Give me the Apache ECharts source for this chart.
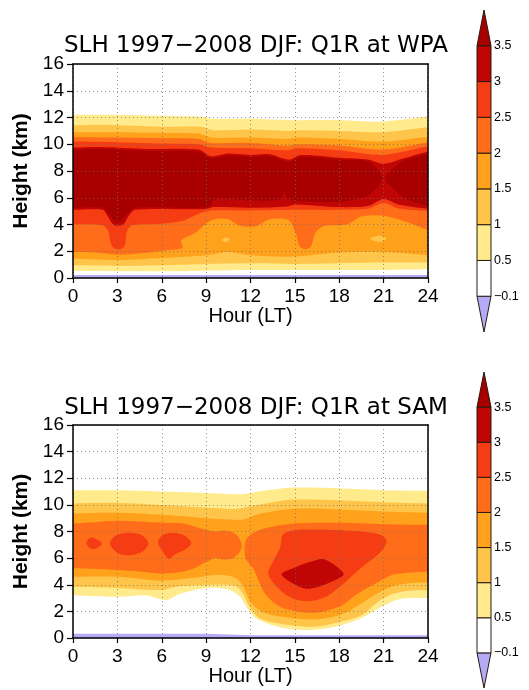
<!DOCTYPE html>
<html><head><meta charset="utf-8">
<script src="https://cdn.jsdelivr.net/npm/echarts@6/dist/echarts.min.js"></script>
<style>html,body{margin:0;padding:0;background:#fff}#c{width:529px;height:690px}</style>
</head><body><div id="c"></div>
<script>
// ---------------- shared scale data ----------------
const LEVELS = [-0.1, 0.5, 1, 1.5, 2, 2.5, 3, 3.5];          // contour levels (colour-bar boundaries)
const CB_LABELS = ['−0.1', '0.5', '1', '1.5', '2', '2.5', '3', '3.5'];
const TITLES = ['SLH 1997−2008 DJF: Q1R at WPA', 'SLH 1997−2008 DJF: Q1R at SAM'];
const HOUR_RANGE = [0, 24, 3];      // min, max, step of the x ticks
const HEIGHT_RANGE = [0, 16, 2];    // min, max, step of the y ticks

// ---------------- WPA panel: region boundaries [hour, km] where Q1R >= level ----------------
const wpaLowTop  = [[-0.3,0.22],[24.3,0.22]];
const wpaLowBot  = [[-0.3,-0.3],[24.3,-0.3]];
const wpa05Top = [[-0.3,12.2],[2,12.2],[5,12.15],[8.7,12.05],[9.4,11.9],[12,11.9],[15,11.8],[18,11.8],[21,11.7],[24.3,12.1]];
const wpa05Bot = [[-0.3,0.52],[6,0.5],[9,0.55],[12,0.6],[15,0.6],[18,0.6],[21,0.6],[24.3,0.65]];
const wpa10Top = [[-0.3,11.4],[2,11.45],[6,11.3],[8.6,11.3],[9.5,11.05],[12,11.1],[14.5,11.0],[15.2,11.05],[18,11.0],[21,10.9],[24.3,11.3]];
const wpa10Bot = [[-0.3,0.95],[3,0.9],[6,0.95],[9,1.05],[12,1.1],[15,1.05],[18,1.1],[21,1.15],[24.3,1.15]];
const wpa15Top = [[-0.3,10.9],[3,10.9],[6,10.85],[8.5,10.8],[9.4,10.5],[12,10.5],[14.5,10.4],[15.2,10.5],[18,10.4],[21,10.2],[24.3,10.6]];
const wpa15Bot = [[-0.3,1.45],[3,1.35],[6,1.5],[9,1.7],[10.5,1.95],[12,1.7],[15,1.6],[18,1.9],[21,1.95],[24.3,1.7]];
const wpaHoleA = [[10.05,2.85],[10.3,3.02],[10.6,2.88],[10.3,2.68]];
const wpaHoleB = [[20.1,2.92],[20.6,3.15],[21.2,2.98],[20.7,2.7]];
const wpa20Top = [[-0.3,10.55],[3,10.5],[6,10.45],[8.5,10.4],[9.3,10.1],[12,10.1],[14.5,9.9],[15.2,10.0],[18,9.9],[21,9.6],[24.3,10.2]];
const wpa20Bot = [[-0.3,1.95],[1.5,1.9],[3,1.75],[4.5,1.85],[6.5,2.1],[7.4,2.25],[7.3,2.8],[8.3,3.4],[9.0,4.1],[9.6,4.4],[10.5,4.4],[11.2,3.95],[12.3,3.85],[13.3,4.4],[14.6,4.3],[15.1,3.2],[15.3,2.4],[15.7,2.15],[16.1,2.4],[16.4,3.4],[17,3.9],[18.5,4.0],[19.5,4.6],[21,4.65],[22.5,4.2],[24.3,3.5]];
const wpa25Top = [[-0.3,10.2],[3,10.15],[6,10.05],[8.5,10.0],[9.3,9.75],[12,9.7],[14.5,9.55],[15.2,9.7],[18,9.55],[21,9.2],[24.3,9.9]];
const wpa25Bot = [[-0.3,4.0],[2,3.95],[2.4,3.5],[2.55,2.6],[2.8,2.2],[3.2,2.15],[3.5,2.45],[3.65,3.5],[4.0,3.95],[6,4.05],[7.5,4.3],[8.5,4.8],[9.3,5.05],[12,5.05],[15,5.1],[18,5.1],[20,5.2],[21,5.6],[22,5.2],[24.3,5.0]];
const wpa30Top = [[-0.3,9.75],[2,9.8],[5,9.65],[8.5,9.6],[9.3,9.1],[10.5,9.3],[12,9.2],[13.3,9.25],[14.6,8.85],[15.4,9.2],[18,9.0],[20,8.85],[21,8.55],[22.5,9.0],[24.3,9.5]];
const wpa30Bot = [[-0.3,5.1],[2,5.1],[2.3,4.7],[2.7,4.0],[3.0,3.9],[3.4,4.0],[3.8,4.7],[4.2,5.1],[9,5.15],[9.5,5.3],[12,5.25],[14.5,5.35],[15,5.5],[18,5.3],[20,5.4],[21,5.9],[22,5.5],[24.3,5.15]];
const wpa35ATop = [[-0.3,9.6],[2,9.65],[5,9.5],[8.5,9.45],[9.3,8.95],[10.5,9.15],[12,9.05],[13.3,9.1],[14.6,8.7],[15.4,9.05],[18,8.85],[20,8.7],[20.9,7.45]];
const wpa35ABot = [[-0.3,5.25],[2.0,5.25],[2.4,4.8],[3.0,4.15],[3.7,4.8],[4.2,5.25],[9.2,5.3],[9.6,5.9],[12,5.8],[14.1,5.9],[14.3,6.6],[14.5,5.9],[18,5.7],[20,6.2]];
const wpa35BTop = [[21.1,7.45],[22,8.5],[22.5,8.85],[24.3,9.35]];
const wpa35BBot = [[22.0,6.3],[22.5,5.9],[24.3,5.3]];

// ---------------- SAM panel ----------------
const samLowTop = [[-0.3,0.32],[9,0.32],[10.5,0.26],[12,0.2],[24.3,0.2]];
const samLowBot = [[-0.3,-0.3],[24.3,-0.3]];
const sam05Top = [[-0.3,11.1],[3,11.1],[6,11.0],[9,10.9],[11.5,10.8],[12.5,11.0],[15,11.3],[18,11.25],[21,11.1],[24.3,11.05]];
const sam05Bot = [[-0.3,3.2],[3,3.1],[5,3.2],[6.3,2.85],[7.2,3.3],[9,3.75],[10.5,3.65],[11.3,3.1],[11.8,2.2],[12.5,1.4],[14,0.8],[15.5,0.6],[17,0.7],[18.1,0.95],[19.3,1.4],[20.3,2.0],[21.3,2.6],[22.2,2.95],[24.3,3.0]];
const sam10Top = [[-0.3,10.1],[3,10.15],[6,10.0],[9,9.8],[11,9.7],[12,9.9],[13.5,10.2],[15,10.4],[18,10.35],[21,10.2],[24.3,10.1]];
const sam10Bot = [[-0.3,3.85],[3,3.75],[6,3.6],[7,3.85],[9.5,4.0],[11,3.9],[11.5,3.3],[11.9,2.4],[12.6,1.5],[14.1,1.05],[16.3,0.85],[18,1.2],[19.5,1.7],[20.6,2.7],[21.6,3.3],[22.7,3.55],[24.3,3.6]];
const sam15Top = [[-0.3,9.35],[3,9.4],[6,9.25],[9,9.0],[10.5,8.9],[11.5,8.9],[12.5,9.3],[15,9.7],[18,9.65],[21,9.5],[24.3,9.4]];
const sam15Bot = [[-0.3,4.6],[3,4.6],[6,4.3],[8,4.5],[10,4.75],[11,4.5],[11.5,3.9],[12,2.7],[12.8,1.95],[14.1,1.6],[16.3,1.4],[18.1,1.75],[19.5,2.6],[20.8,3.5],[22,4.0],[24.3,4.2]];
const sam20ATop = [[-0.3,8.6],[1.5,8.7],[3,8.8],[4.5,8.75],[6,8.65],[7.5,8.6],[8.7,8.2],[9.5,8.0],[10.3,8.05],[11.0,7.8],[11.4,7.1]];
const sam20ABot = [[-0.3,5.25],[1.5,5.2],[3,5.1],[4.5,5.0],[6,4.85],[7.5,5.0],[8.3,5.3],[9.0,5.7],[9.6,6.0],[10.2,5.9],[10.8,6.0],[11.3,6.5]];
const sam20BTop = [[11.6,6.6],[11.7,7.4],[12.2,7.9],[13,8.25],[15,8.6],[18,8.65],[21,8.55],[24.3,8.5]];
const sam20BBot = [[11.7,5.9],[12.2,5.2],[13.0,3.3],[14.1,2.3],[16.3,1.9],[18.1,2.4],[19.2,3.3],[20.8,4.3],[21.8,4.8],[24.3,5.0]];
const sam25Blob1 = [[0.9,7.15],[1.2,7.55],[1.6,7.4],[1.95,7.1],[1.6,6.75],[1.2,6.7]];
const sam25Blob2 = [[2.5,7.1],[2.9,7.7],[3.7,7.9],[4.6,7.75],[5.1,7.1],[4.7,6.5],[3.8,6.2],[3.0,6.4]];
const sam25Blob3 = [[5.75,7.2],[6.1,7.75],[6.8,7.9],[7.6,7.65],[8.0,7.1],[7.5,6.6],[6.9,6.3],[6.5,5.95],[6.1,6.45]];
const sam25Main  = [[13.2,4.8],[13.6,5.9],[14.0,6.8],[14.2,7.8],[15,8.1],[16.5,8.15],[18,8.1],[19.5,8.0],[20.8,7.75],[21.2,7.3],[20.9,6.6],[20.3,6.0],[19.5,5.3],[18.8,4.6],[18.1,3.9],[17.2,3.15],[16.2,2.8],[15.2,2.85],[14.1,3.5]];
const sam30Blob  = [[14.1,4.8],[15.0,5.3],[16.0,5.7],[17.0,5.9],[18.3,4.8],[17.2,4.1],[15.8,3.7],[14.7,4.2]];

// ---------------- colours (style) ----------------
const BIN_COLORS = ['#b4aaf5','#ffffff','#ffea8c','#ffc54a','#ffa11a','#ff6c1a','#f53c12','#c00505','#a80000'];
function colorFor(v){ let k = 0; for (const l of LEVELS) if (v >= l) k++; return BIN_COLORS[k]; }

function band(top, bot){
  const pts = [];
  if (top[0][0] <= 0) pts.push([-1.2, top[0][1]]);
  pts.push(...top);
  const tl = top[top.length-1], bl = bot[bot.length-1];
  if (tl[0] >= 24) pts.push([25.2, tl[1]]);
  if (bl[0] >= 24) pts.push([25.2, bl[1]]);
  for (let i = bot.length-1; i >= 0; i--) pts.push(bot[i]);
  if (bot[0][0] <= 0) pts.push([-1.2, bot[0][1]]);
  return pts;
}

const wpaLayers = [
  {v:-0.2, pts: band(wpaLowTop, wpaLowBot), s:0},
  {v:0.5, pts: band(wpa05Top, wpa05Bot)},
  {v:1.0, pts: band(wpa10Top, wpa10Bot)},
  {v:1.5, pts: band(wpa15Top, wpa15Bot)},
  {v:1.0, pts: wpaHoleA},
  {v:1.0, pts: wpaHoleB},
  {v:2.0, pts: band(wpa20Top, wpa20Bot)},
  {v:2.5, pts: band(wpa25Top, wpa25Bot)},
  {v:3.0, pts: band(wpa30Top, wpa30Bot)},
  {v:3.5, pts: band(wpa35ATop, wpa35ABot)},
  {v:3.5, pts: band(wpa35BTop, wpa35BBot)}
];
const samLayers = [
  {v:-0.2, pts: band(samLowTop, samLowBot), s:0},
  {v:0.5, pts: band(sam05Top, sam05Bot)},
  {v:1.0, pts: band(sam10Top, sam10Bot)},
  {v:1.5, pts: band(sam15Top, sam15Bot)},
  {v:2.0, pts: band(sam20ATop, sam20ABot)},
  {v:2.0, pts: band(sam20BTop, sam20BBot)},
  {v:2.5, pts: sam25Blob1},
  {v:2.5, pts: sam25Blob2},
  {v:2.5, pts: sam25Blob3},
  {v:2.5, pts: sam25Main},
  {v:3.0, pts: sam30Blob}
];

const FONT = 'Liberation Sans';
const TITLE_FONT = 'DejaVu Sans';
const chart = echarts.init(document.getElementById('c'), null, {renderer:'canvas'});

function contourSeries(layers, idx){
  return {
    type:'custom', xAxisIndex: idx*2, yAxisIndex: idx*2, clip:true, z:2,
    data: layers.map((l,i)=>[i]),
    renderItem(params, api){
      const L = layers[params.dataIndex];
      const cs = params.coordSys;
      return {
        type:'polygon',
        shape:{points: L.pts.map(p=>api.coord(p)), smooth: L.s === undefined ? 0.3 : L.s},
        style:{fill: colorFor(L.v), stroke: null},
        clipPath:{type:'rect', shape:{x:cs.x, y:cs.y, width:cs.width, height:cs.height}}
      };
    }
  };
}
function colorbarSeries(idx){
  const n = BIN_COLORS.length;
  return {
    type:'custom', xAxisIndex: 4+idx, yAxisIndex: 4+idx, z:3,
    data: BIN_COLORS.map((c,i)=>[i]),
    renderItem(params, api){
      const i = api.value(0);
      let pts;
      if (i === 0) pts = [[0,1],[1,1],[0.5,0]];
      else if (i === n-1) pts = [[0,i],[1,i],[0.5,i+1]];
      else pts = [[0,i],[1,i],[1,i+1],[0,i+1]];
      return {type:'polygon', shape:{points: pts.map(p=>api.coord(p))},
              style:{fill: BIN_COLORS[i], stroke:'#2a1a10', lineWidth:1}};
    }
  };
}

const grids = [
  {left:73, top:64, width:355, height:214},
  {left:73, top:425, width:355, height:213},
  {left:477, top:10, width:14, height:322},
  {left:477, top:372, width:14, height:316}
];
const dotted = {show:true, lineStyle:{color:'rgba(110,110,110,0.75)', type:[1,3], width:1}};
const xAxes = [], yAxes = [];
for (let g = 0; g < 2; g++){
  xAxes.push({type:'value', gridIndex:g, min:HOUR_RANGE[0], max:HOUR_RANGE[1], interval:HOUR_RANGE[2], z:10,
    name:'Hour (LT)', nameLocation:'middle', nameGap:27,
    nameTextStyle:{fontSize:20, color:'#000', fontFamily:FONT},
    axisLine:{show:true, onZero:false, lineStyle:{color:'#000', width:1.5}},
    axisTick:{show:true, length:5, lineStyle:{color:'#000', width:1.2}},
    axisLabel:{fontSize:19, color:'#000', margin:9, fontFamily:FONT},
    splitLine:dotted});
  xAxes.push({type:'value', gridIndex:g, position:'top', min:HOUR_RANGE[0], max:HOUR_RANGE[1], z:10,
    axisLine:{show:true, onZero:false, lineStyle:{color:'#000', width:1.5}},
    axisTick:{show:false}, axisLabel:{show:false}, splitLine:{show:false}});
  yAxes.push({type:'value', gridIndex:g, min:HEIGHT_RANGE[0], max:HEIGHT_RANGE[1], interval:HEIGHT_RANGE[2], z:10,
    name:'Height (km)', nameLocation:'middle', nameGap:41,
    nameTextStyle:{fontSize:21, fontWeight:'bold', color:'#000', fontFamily:FONT},
    axisLine:{show:true, onZero:false, lineStyle:{color:'#000', width:1.5}},
    axisTick:{show:true, length:6, lineStyle:{color:'#000', width:1.2}},
    axisLabel:{fontSize:19, color:'#000', margin:9, fontFamily:FONT},
    splitLine:dotted});
  yAxes.push({type:'value', gridIndex:g, position:'right', min:HEIGHT_RANGE[0], max:HEIGHT_RANGE[1], z:10,
    axisLine:{show:true, onZero:false, lineStyle:{color:'#000', width:1.5}},
    axisTick:{show:false}, axisLabel:{show:false}, splitLine:{show:false}});
}
for (let g = 2; g < 4; g++){
  xAxes.push({type:'value', gridIndex:g, min:0, max:1, show:false});
  yAxes.push({type:'value', gridIndex:g, min:0, max:BIN_COLORS.length, interval:1, position:'right',
    axisLine:{show:false}, axisTick:{show:false}, splitLine:{show:false},
    axisLabel:{fontSize:12.5, color:'#000', margin:3, fontFamily:FONT,
      formatter: v => (v >= 1 && v <= LEVELS.length) ? CB_LABELS[v-1] : ''}});
}

chart.setOption({
  animation:false,
  backgroundColor:'#fff',
  textStyle:{fontFamily:FONT},
  title: TITLES.map((t,i)=>({text:t, left:251, textAlign:'center', top: i===0 ? 30 : 392,
    textStyle:{fontSize:23, fontWeight:'normal', color:'#000', fontFamily:TITLE_FONT}})),
  grid: grids,
  xAxis: xAxes,
  yAxis: yAxes,
  series: [contourSeries(wpaLayers,0), contourSeries(samLayers,1), colorbarSeries(0), colorbarSeries(1)]
});
</script></body></html>
